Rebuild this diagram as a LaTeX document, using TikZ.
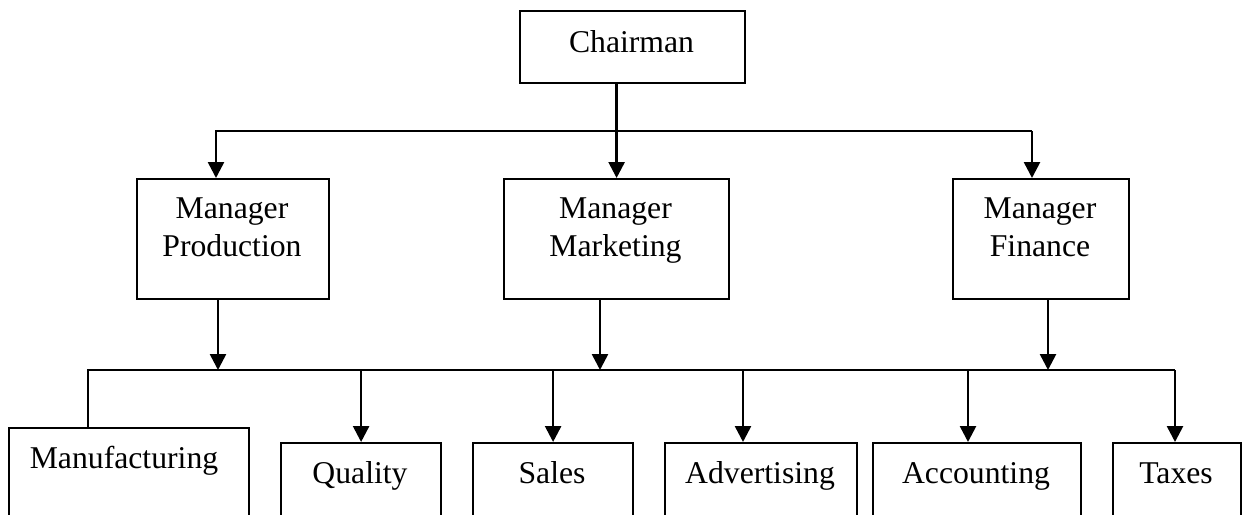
\documentclass[tikz,border=0pt]{standalone}
\usepackage{fontspec}
\setmainfont{Liberation Serif}
\usetikzlibrary{arrows.meta}
\tikzset{
  box/.style={draw, line width=1.1pt, rectangle, inner sep=0pt, anchor=north west, minimum height=60pt},
  lowbox/.style={box, minimum height=100pt},
  txt/.style={inner sep=0pt, anchor=base, font=\fontsize{15.85}{19}\selectfont},
  conn/.style={line width=1.3pt},
  arr/.style={conn, -{Triangle[width=8pt,length=8pt]}}
}
\begin{document}
\begin{tikzpicture}[x=0.5pt,y=-0.5pt]
\useasboundingbox (0,0) rectangle (1246,514);
\fill[white] (0,0) rectangle (1246,514);
\clip (0,0) rectangle (1246,514);
% boxes
\node[box, minimum width=112.5pt, minimum height=36pt] (chair) at (519,10) {};
\node[box, minimum width=96pt] (mp) at (136,178) {};
\node[box, minimum width=112.5pt] (mm) at (503,178) {};
\node[box, minimum width=88pt] (mf) at (952,178) {};
\node[lowbox, minimum width=120pt] (manu) at (8,427) {};
\node[lowbox, minimum width=80pt] (qual) at (280,442) {};
\node[lowbox, minimum width=80pt] (sales) at (472,442) {};
\node[lowbox, minimum width=96pt] (adv) at (664,442) {};
\node[lowbox, minimum width=104pt] (acc) at (872,442) {};
\node[lowbox, minimum width=64pt] (tax) at (1112,442) {};
% texts
\node[txt] (tchair) at (631.5,52) {Chairman};
\node[txt] (tmp1) at (232,218) {Manager};
\node[txt] (tmp2) at (232,256) {Production};
\node[txt] (tmm1) at (615.5,218) {Manager};
\node[txt] (tmm2) at (615.5,256) {Marketing};
\node[txt] (tmf1) at (1040,218) {Manager};
\node[txt] (tmf2) at (1040,256) {Finance};
\node[txt] (tmanu) at (124,468) {Manufacturing};
\node[txt] (tqual) at (360,483) {Quality};
\node[txt] (tsales) at (552,483) {Sales};
\node[txt] (tadv) at (760,483) {Advertising};
\node[txt] (tacc) at (976,483) {Accounting};
\node[txt] (ttax) at (1176,483) {Taxes};
% top level connectors
\coordinate (tl) at (216,131);
\coordinate (tr) at (1032,131);
\draw[arr] (mm.north |- chair.south) -- (mm.north);
\draw[arr] (tr) -- (tl) -- (tl |- mp.north);
\draw[arr] (tr) -- (tr |- mf.north);
% manager to bottom line
\coordinate (bp) at (218,370);
\coordinate (bm) at (600,370);
\coordinate (bf) at (1048,370);
\draw[arr] (bp |- mp.south) -- (bp);
\draw[arr] (bm |- mm.south) -- (bm);
\draw[arr] (bf |- mf.south) -- (bf);
% bottom line
\coordinate (bl) at (88,370);
\coordinate (br) at (1175,370);
\coordinate (ba) at (743,370);
\coordinate (bc) at (968,370);
\draw[conn] (bl |- manu.north) -- (bl) -- (br);
\draw[arr] (br) -- (br |- tax.north);
\draw[arr] (qual.north |- bl) -- (qual.north);
\draw[arr] (sales.north |- bl) -- (sales.north);
\draw[arr] (ba) -- (ba |- adv.north);
\draw[arr] (bc) -- (bc |- acc.north);
\end{tikzpicture}
\end{document}
